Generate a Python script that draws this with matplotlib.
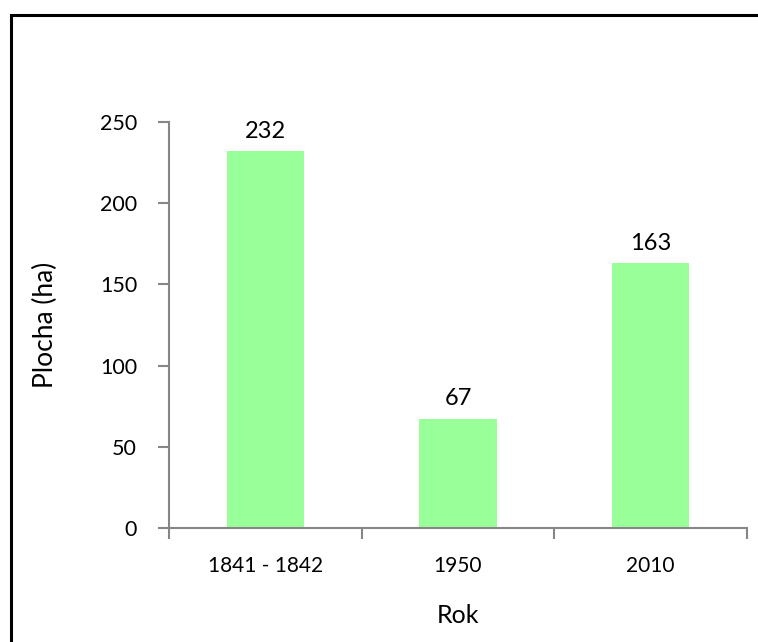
import matplotlib
matplotlib.use("Agg")
import matplotlib.pyplot as plt
from matplotlib.patches import Rectangle

categories = ["1841 - 1842", "1950", "2010"]
values = [232, 67, 163]
y_ticks = [0, 50, 100, 150, 200, 250]

plt.rcParams["font.family"] = ["Lato", "DejaVu Sans"]

W, H = 758, 642
fig = plt.figure(figsize=(W / 100, H / 100), dpi=100)

# Frame around the chart area (left and top edges visible)
fig.patches.append(Rectangle((11 / W, -0.05), 1.2, (H - 15) / H + 0.05,
                             transform=fig.transFigure, fill=False,
                             edgecolor="black", linewidth=2.2))

left, right = 169 / W, 747 / W
bottom, top = 1 - 528 / H, 1 - 122 / H
ax = fig.add_axes([left, bottom, right - left, top - bottom])

axis_grey = "#868686"
x = list(range(len(categories)))
ax.bar(x, values, width=0.4, color="#99FF99", zorder=2)

for xi, v in zip(x, values):
    ax.annotate(str(v), (xi, v), xytext=(0, 7), textcoords="offset points",
                ha="center", va="bottom", fontsize=17, color="black")

ax.set_xlim(-0.5, len(categories) - 0.5)
ax.set_ylim(0, 250)
ax.set_yticks(y_ticks)
ax.set_yticklabels([str(t) for t in y_ticks], fontsize=15.5)

ax.set_xticks(x)
ax.set_xticklabels(categories, fontsize=15)
ax.tick_params(axis="x", length=0, pad=20)
ax.tick_params(axis="y", length=8, width=1.5, color=axis_grey, pad=15)

# Category boundary ticks on the x axis
ax.set_xticks([i - 0.5 for i in range(len(categories) + 1)], minor=True)
ax.tick_params(axis="x", which="minor", length=8, width=1.5, color=axis_grey)

for side in ("top", "right"):
    ax.spines[side].set_visible(False)
for side in ("left", "bottom"):
    ax.spines[side].set_color(axis_grey)
    ax.spines[side].set_linewidth(1.5)

ax.set_ylabel("Plocha (ha)", fontsize=19, labelpad=30)
ax.set_xlabel("Rok", fontsize=18, labelpad=20)

fig.savefig("out.png", dpi=100)
